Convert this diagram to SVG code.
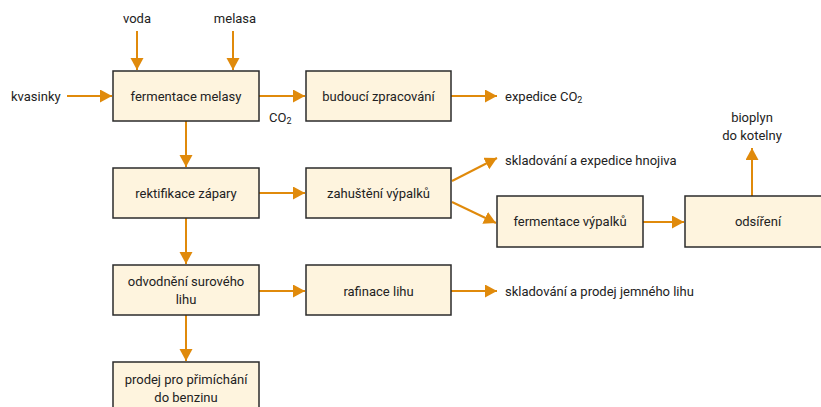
<svg xmlns="http://www.w3.org/2000/svg" width="821" height="407" viewBox="0 0 821 407">
<defs>
<marker id="ah" markerUnits="userSpaceOnUse" markerWidth="13" markerHeight="14" refX="12" refY="6.5" orient="auto">
<path d="M0,0 L12,6.5 L0,13 z" fill="#E08A0B"/>
</marker>
<style>
.box{fill:#FEF4DE;stroke:#2b2b2b;stroke-width:1.5}
.t{font-family:Roboto,"Liberation Sans",sans-serif;font-size:13px;fill:#222}
.c{text-anchor:middle}
.ln{stroke:#E08A0B;stroke-width:2;fill:none;marker-end:url(#ah)}
</style>
</defs>
<rect width="821" height="407" fill="#fff"/>
<g id="connectors">
<line class="ln" x1="137" y1="31" x2="137" y2="70"/>
<line class="ln" x1="233" y1="31" x2="233" y2="70"/>
<line class="ln" x1="67" y1="96" x2="112" y2="96"/>
<line class="ln" x1="259" y1="96" x2="305" y2="96"/>
<line class="ln" x1="451" y1="96" x2="497" y2="96"/>
<line class="ln" x1="186" y1="121" x2="186" y2="167"/>
<line class="ln" x1="259" y1="193" x2="305" y2="193"/>
<line class="ln" x1="452" y1="181" x2="497" y2="158"/>
<line class="ln" x1="452" y1="202" x2="496" y2="223"/>
<line class="ln" x1="643" y1="222" x2="684" y2="222"/>
<line class="ln" x1="752" y1="196" x2="752" y2="148"/>
<line class="ln" x1="186" y1="218" x2="186" y2="264"/>
<line class="ln" x1="259" y1="291" x2="305" y2="291"/>
<line class="ln" x1="451" y1="291" x2="497" y2="291"/>
<line class="ln" x1="186" y1="315" x2="186" y2="361"/>
</g>
<g id="labels">
<text class="t c" x="137" y="23">voda</text>
<text class="t c" x="235" y="23">melasa</text>
<text class="t" x="11" y="101">kvasinky</text>
<text class="t" x="269" y="122">CO<tspan font-size="9" dy="2">2</tspan></text>
<text class="t" x="505" y="101">expedice CO<tspan font-size="9" dy="2">2</tspan></text>
<text class="t" x="505" y="165">skladování a expedice hnojiva</text>
<text class="t c" x="752" y="122">bioplyn</text>
<text class="t c" x="752" y="140">do kotelny</text>
<text class="t" x="505" y="296">skladování a prodej jemného lihu</text>
</g>
<g id="n1"><rect class="box" x="113" y="71" width="146" height="50"/><text class="t c" x="186" y="101">fermentace melasy</text></g>
<g id="n2"><rect class="box" x="306" y="71" width="145" height="50"/><text class="t c" x="378.5" y="101">budoucí zpracování</text></g>
<g id="n3"><rect class="box" x="113" y="168" width="146" height="50"/><text class="t c" x="186" y="198">rektifikace zápary</text></g>
<g id="n4"><rect class="box" x="306" y="168" width="145" height="50"/><text class="t c" x="378.5" y="198">zahuštění výpalků</text></g>
<g id="n5"><rect class="box" x="497" y="196" width="146" height="51"/><text class="t c" x="570" y="226">fermentace výpalků</text></g>
<g id="n6"><rect class="box" x="685" y="196" width="146" height="51"/><text class="t c" x="758" y="226">odsíření</text></g>
<g id="n7"><rect class="box" x="113" y="265" width="146" height="50"/><text class="t c" x="186" y="286">odvodnění surového</text><text class="t c" x="186" y="304">lihu</text></g>
<g id="n8"><rect class="box" x="306" y="265" width="145" height="50"/><text class="t c" x="378.5" y="296">rafinace lihu</text></g>
<g id="n9"><rect class="box" x="113" y="362" width="146" height="50"/><text class="t c" x="186" y="384">prodej pro přimíchání</text><text class="t c" x="186" y="402">do benzinu</text></g>
</svg>
